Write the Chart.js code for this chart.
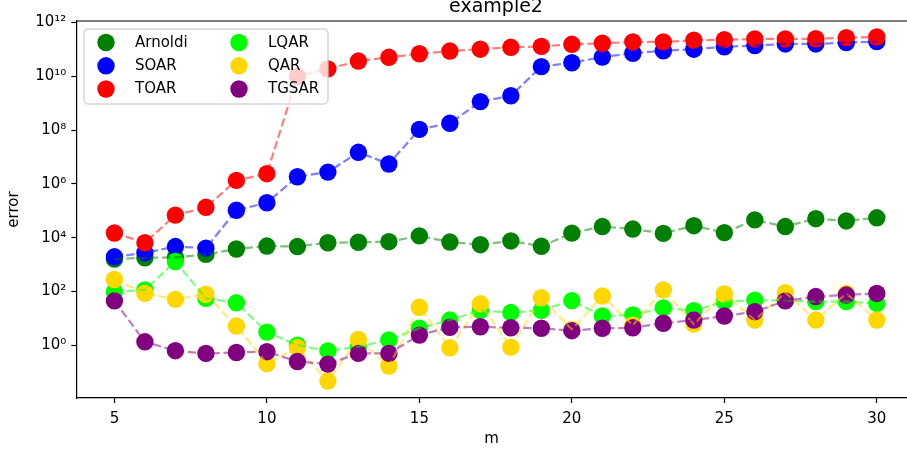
<!DOCTYPE html>
<html>
<head>
<meta charset="utf-8">
<title>example2</title>
<script src="https://cdn.jsdelivr.net/npm/chart.js@4.4.0/dist/chart.umd.min.js"></script>
<style>
  html, body { margin: 0; padding: 0; background: #fff; }
  #wrap { width: 907px; height: 454px; }
</style>
</head>
<body>
<div id="wrap"><canvas id="error-chart" width="907" height="454"></canvas></div>
<script>
// x values (m)
var m = [5, 6, 7, 8, 9, 10, 11, 12, 13, 14, 15, 16, 17, 18, 19, 20, 21, 22, 23, 24, 25, 26, 27, 28, 29, 30];

// error per method
var arnoldi = [1.6e3, 1.8e3, 1.85e3, 2.4e3, 3.8e3, 4.9e3, 4.7e3, 6.5e3, 6.8e3, 7.1e3, 1.17e4, 6.9e3, 5.5e3, 7.6e3, 4.8e3, 1.48e4, 2.6e4, 2.1e4, 1.45e4, 2.8e4, 1.55e4, 4.6e4, 2.6e4, 5.1e4, 4.2e4, 5.5e4];
var soar = [1.95e3, 2.75e3, 4.7e3, 4.1e3, 1.05e5, 2.0e5, 1.85e6, 2.75e6, 1.5e7, 5.5e6, 1.07e8, 1.8e8, 1.15e9, 1.9e9, 2.3e10, 3.2e10, 5.2e10, 7.2e10, 8.9e10, 1.02e11, 1.26e11, 1.4e11, 1.6e11, 1.6e11, 1.8e11, 1.95e11];
var toar = [1.5e4, 6.5e3, 6.9e4, 1.35e5, 1.35e6, 2.4e6, 1.0e10, 1.9e10, 3.7e10, 5.1e10, 6.9e10, 8.7e10, 1.02e11, 1.2e11, 1.3e11, 1.55e11, 1.7e11, 1.9e11, 1.9e11, 2.2e11, 2.3e11, 2.45e11, 2.45e11, 2.5e11, 2.75e11, 2.9e11];
var lqar = [98, 115, 1.3e3, 56, 38, 3.1, 1.02, 0.62, 0.89, 1.6, 4.3, 8.7, 20, 16.5, 20, 46, 12.3, 13.5, 24.5, 19.5, 42, 48, 46, 42, 42, 36];
var qar = [280, 85, 51, 79, 5.2, 0.21, 0.81, 0.047, 1.66, 0.17, 26, 0.81, 35, 0.85, 59, 3.9, 68, 5.6, 115, 6.2, 81, 8.7, 91, 8.7, 85, 8.7];
var tgsar = [45, 1.35, 0.63, 0.5, 0.54, 0.58, 0.25, 0.2, 0.5, 0.5, 2.4, 4.7, 4.9, 4.5, 4.3, 3.5, 4.3, 4.5, 6.6, 8.7, 12.3, 17.8, 45, 65, 74, 85];

var seriesNames = ['Arnoldi', 'SOAR', 'TOAR', 'LQAR', 'QAR', 'TGSAR'];
var seriesValues = [arnoldi, soar, toar, lqar, qar, tgsar];
var seriesColors = ['#008000', '#0000ff', '#ff0000', '#00ff00', '#ffd700', '#800080'];
var lineColors = ['rgba(0,128,0,0.5)', 'rgba(0,0,255,0.5)', 'rgba(255,0,0,0.5)', 'rgba(0,255,0,0.5)', 'rgba(255,215,0,0.5)', 'rgba(128,0,128,0.5)'];

// ticks
var xTicks = [5, 10, 15, 20, 25, 30];
var yTicks = [1e0, 1e2, 1e4, 1e6, 1e8, 1e10, 1e12];
var yTickLabels = ['10\u2070', '10\u00b2', '10\u2074', '10\u2076', '10\u2078', '10\u00b9\u2070', '10\u00b9\u00b2'];

var chartTitle = 'example2';
var xLabel = 'm';
var yLabel = 'error';
var FONT = 'DejaVu Sans';

function pairs(values) {
  return m.map(function (x, i) { return { x: x, y: values[i] }; });
}

// markers first (below), then all dashed lines on top, like matplotlib zorder
var datasets = [];
seriesNames.forEach(function (name, i) {
  datasets.push({
    label: name,
    data: pairs(seriesValues[i]),
    showLine: false,
    pointRadius: 8.7,
    pointHoverRadius: 8.7,
    pointBorderWidth: 0,
    pointBackgroundColor: seriesColors[i],
    order: 20 - i
  });
});
seriesNames.forEach(function (name, i) {
  datasets.push({
    label: name + ' line',
    data: pairs(seriesValues[i]),
    showLine: true,
    pointRadius: 0,
    pointHoverRadius: 0,
    borderColor: lineColors[i],
    borderWidth: 2.25,
    borderDash: [8.3, 3.6],
    tension: 0,
    order: 10 - i
  });
});

// title, top spine and the in-axes legend
var decorPlugin = {
  id: 'decor',
  afterDraw: function (chart) {
    var ctx = chart.ctx;
    var area = chart.chartArea;
    ctx.save();

    // top spine
    ctx.strokeStyle = '#000';
    ctx.lineWidth = 1.2;
    ctx.beginPath();
    ctx.moveTo(area.left, area.top);
    ctx.lineTo(area.right, area.top);
    ctx.stroke();

    // title
    ctx.fillStyle = '#000';
    ctx.font = '19px "' + FONT + '"';
    ctx.textAlign = 'center';
    ctx.textBaseline = 'alphabetic';
    ctx.fillText(chartTitle, 496, 11.7);

    // legend box
    var bx = 84, by = 29, bw = 244, bh = 75, r = 4;
    ctx.beginPath();
    ctx.moveTo(bx + r, by);
    ctx.lineTo(bx + bw - r, by);
    ctx.arcTo(bx + bw, by, bx + bw, by + r, r);
    ctx.lineTo(bx + bw, by + bh - r);
    ctx.arcTo(bx + bw, by + bh, bx + bw - r, by + bh, r);
    ctx.lineTo(bx + r, by + bh);
    ctx.arcTo(bx, by + bh, bx, by + bh - r, r);
    ctx.lineTo(bx, by + r);
    ctx.arcTo(bx, by, bx + r, by, r);
    ctx.closePath();
    ctx.fillStyle = 'rgba(255,255,255,0.8)';
    ctx.fill();
    ctx.strokeStyle = 'rgba(204,204,204,0.8)';
    ctx.lineWidth = 1.5;
    ctx.stroke();

    // legend entries, 2 columns of 3
    ctx.font = '15px "' + FONT + '"';
    ctx.textAlign = 'left';
    ctx.textBaseline = 'middle';
    var colMarkerX = [106, 239];
    var colTextX = [135, 268];
    var rowY = [42.5, 65.8, 89];
    seriesNames.forEach(function (name, i) {
      var col = Math.floor(i / 3), row = i % 3;
      ctx.fillStyle = seriesColors[i];
      ctx.beginPath();
      ctx.arc(colMarkerX[col], rowY[row], 8.7, 0, Math.PI * 2);
      ctx.fill();
      ctx.fillStyle = '#000';
      ctx.fillText(name, colTextX[col], rowY[row] + 0.5);
    });

    ctx.restore();
  }
};

var chartContainer = document.getElementById('error-chart');
var myChart = new Chart(chartContainer, {
  type: 'scatter',
  data: { datasets: datasets },
  options: {
    responsive: false,
    animation: false,
    events: [],
    layout: { autoPadding: false, padding: { top: 21, left: 0, right: 0, bottom: 0 } },
    plugins: {
      legend: { display: false },
      tooltip: { enabled: false },
      title: { display: false }
    },
    scales: {
      x: {
        type: 'linear',
        min: 3.75,
        max: 30.99,
        afterBuildTicks: function (axis) {
          axis.ticks = xTicks.map(function (v) { return { value: v }; });
        },
        afterFit: function (axis) {
          axis.height = 56;
          axis.paddingLeft = 0;
          axis.paddingRight = 0;
        },
        grid: { display: true, drawOnChartArea: false, drawTicks: true, tickLength: 5, tickWidth: 1.2, tickColor: '#000' },
        border: { display: true, color: '#000', width: 1.2 },
        ticks: {
          font: { family: FONT, size: 15 },
          color: '#000',
          padding: 7,
          maxRotation: 0,
          autoSkip: false
        },
        title: {
          display: true,
          text: xLabel,
          font: { family: FONT, size: 15 },
          color: '#000',
          padding: { top: 0, bottom: 6 }
        }
      },
      y: {
        type: 'logarithmic',
        min: 0.011,
        max: 1.14e12,
        afterBuildTicks: function (axis) {
          axis.ticks = yTicks.map(function (v) { return { value: v }; });
        },
        afterFit: function (axis) {
          axis.width = 76.3;
          axis.paddingTop = 0;
          axis.paddingBottom = 0;
        },
        grid: { display: true, drawOnChartArea: false, drawTicks: true, tickLength: 5, tickWidth: 1.2, tickColor: '#000' },
        border: { display: true, color: '#000', width: 1.2 },
        ticks: {
          font: { family: FONT, size: 15 },
          color: '#000',
          padding: 5,
          autoSkip: false,
          callback: function (value) {
            var k = yTicks.indexOf(value);
            return k >= 0 ? yTickLabels[k] : '';
          }
        },
        title: {
          display: true,
          text: yLabel,
          font: { family: FONT, size: 15 },
          color: '#000',
          padding: { top: 5, bottom: 0 }
        }
      }
    }
  },
  plugins: [decorPlugin]
});
</script>
</body>
</html>
